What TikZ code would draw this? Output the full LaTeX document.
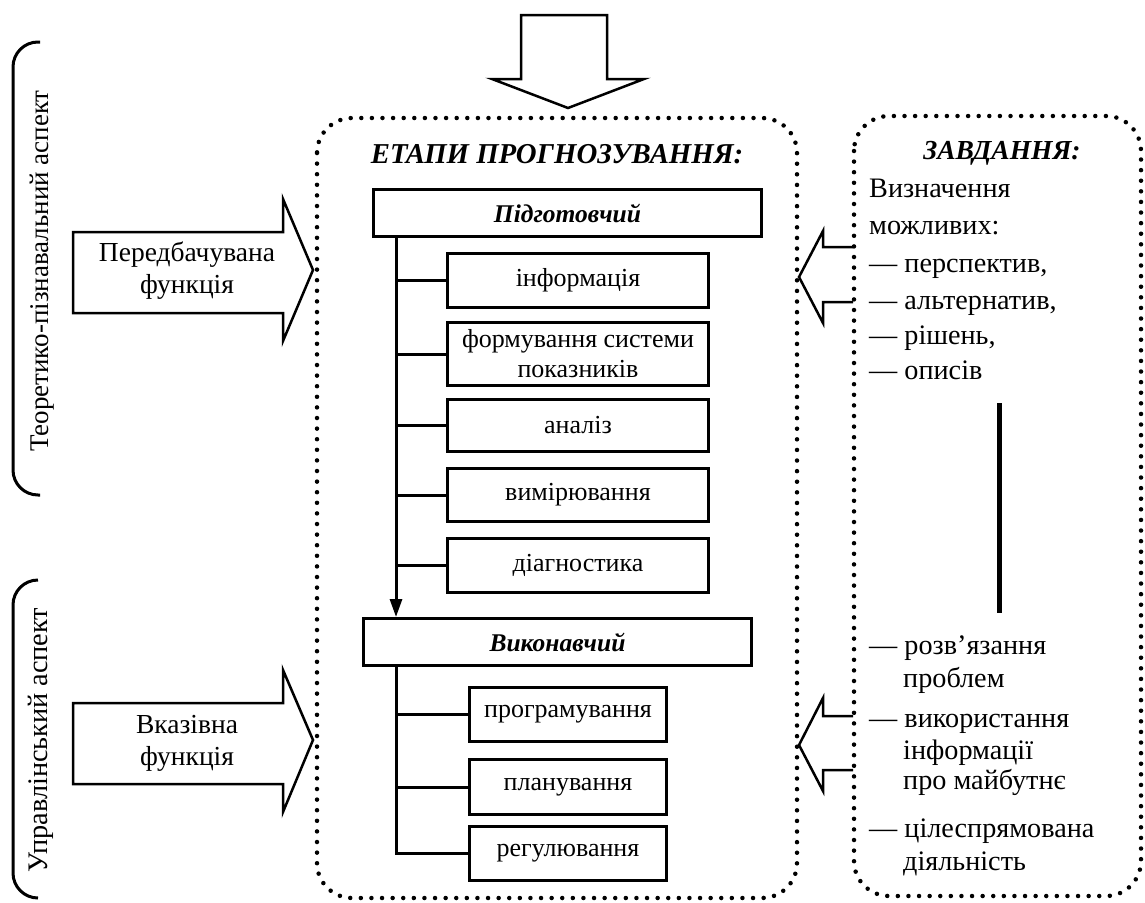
\documentclass[tikz,border=0pt]{standalone}
\usepackage{fontspec}
\setmainfont{Liberation Serif}
\usetikzlibrary{arrows.meta}
\begin{document}
\begin{tikzpicture}[x=1pt,y=-1pt,
  txt/.style={font=\fontsize{27.5}{32}\selectfont, inner sep=0pt},
  ttl/.style={font=\fontsize{28.8}{34}\selectfont\bfseries\itshape, inner sep=0pt},
  stage/.style={draw, line width=3pt, minimum width=388pt, minimum height=47pt, inner sep=0pt,
    font=\fontsize{25.5}{30}\selectfont\bfseries\itshape},
  subbox/.style={draw, line width=3pt, minimum height=54pt, inner sep=0pt, align=center,
    font=\fontsize{26}{30}\selectfont},
  dotbox/.style={line width=4.5pt, dash pattern=on 0pt off 10.6pt, line cap=round, rounded corners=35pt},
  blockarrow/.style={line width=2.5pt, line join=miter},
  brace/.style={line width=3pt, rounded corners=25pt},
  conn/.style={line width=3pt},
  rtxt/.style={font=\fontsize{28.2}{32}\selectfont, inner sep=0pt, anchor=base west}
]
\useasboundingbox (0,0) rectangle (1145,902);

% brackets and aspect labels
\draw[brace] (40,42) -- (13,42) -- (13,495) -- (40,495);
\draw[brace] (38,580) -- (13,580) -- (13,898) -- (38,898);
\node[txt, rotate=90, font=\fontsize{27}{32}\selectfont] (asp1) at (42,271) {Теоретико-пізнавальний аспект};
\node[txt, rotate=90, font=\fontsize{28.3}{32}\selectfont] (asp2) at (41,740) {Управлінський аспект};

% left block arrows
\draw[blockarrow] (73,232) -- (283,232) -- (283,199) -- (313,270) -- (283,341) -- (283,313) -- (73,313) -- cycle;
\node[txt, align=center] (f1) at (187,271) {Передбачувана\\функція};
\draw[blockarrow] (73,703) -- (283,703) -- (283,670) -- (313,740) -- (283,812) -- (283,784) -- (73,784) -- cycle;
\node[txt, align=center] (f2) at (187,743) {Вказівна\\функція};

% top block arrow
\draw[blockarrow] (521,15) -- (607,15) -- (607,79) -- (644,79) -- (568,108) -- (492,79) -- (521,79) -- cycle;

% dotted boxes
\draw[dotbox] (317,118) rectangle (797,898);
\draw[dotbox] (854,116) rectangle (1141,896);

% titles
\node[ttl] (t-etapy) at (557,154) {ЕТАПИ ПРОГНОЗУВАННЯ:};
\node[ttl, font=\fontsize{27.5}{34}\selectfont\bfseries\itshape] (t-zavd) at (1002,153) {ЗАВДАННЯ:};

% stages
\node[stage] (pid) at (567.5,213) {Підготовчий};
\node[subbox, minimum width=261pt] (inf) at (578,280.5) {інформація};
\node[subbox, minimum width=261pt, minimum height=63pt] (form) at (578,354) {формування системи\\показників};
\node[subbox, minimum width=261pt, minimum height=52pt] (anal) at (578,425.5) {аналіз};
\node[subbox, minimum width=261pt, minimum height=53pt] (vym) at (578,495) {вимірювання};
\node[subbox, minimum width=261pt] (diag) at (578,565.5) {діагностика};

\node[stage] (vyk) at (557.5,642) {Виконавчий};
\node[subbox, minimum width=197pt] (prog) at (568,714.5) {програмування};
\node[subbox, minimum width=197pt, minimum height=55pt] (plan) at (568,787) {планування};
\node[subbox, minimum width=197pt] (reg) at (568,853.5) {регулювання};

% tree connectors
\coordinate (tr1) at (396,238);
\coordinate (tr2) at (396,667);
\draw[conn, -{Triangle[length=18pt,width=12pt]}] (tr1) -- (tr1 |- vyk.north);
\foreach \b in {inf,form,anal,vym,diag}{
  \draw[conn] (tr1 |- \b.west) -- (\b.west);
}
\draw[conn] (tr2) -- (tr2 |- reg.west) -- (reg.west);
\draw[conn] (tr2 |- prog.west) -- (prog.west);
\draw[conn] (tr2 |- plan.west) -- (plan.west);

% right block arrows (open at the dotted border)
\draw[blockarrow] (853,247) -- (823,247) -- (823,231) -- (799,277) -- (823,323) -- (823,302) -- (853,302);
\draw[blockarrow] (853,716) -- (823,716) -- (823,698) -- (799,745) -- (823,791) -- (823,770) -- (853,770);

% right texts
\node[rtxt] (r1) at (869,197) {Визначення};
\node[rtxt] (r2) at (869,234) {можливих:};
\node[rtxt] (r3) at (869,272) {— перспектив,};
\node[rtxt] (r4) at (869,309) {— альтернатив,};
\node[rtxt] (r5) at (869,344) {— рішень,};
\node[rtxt] (r6) at (869,379) {— описів};

\coordinate (bar1) at (999,403);
\coordinate (bar2) at (999,613);
\draw[line width=5pt] (bar1) -- (bar2);

\node[rtxt] (r7) at (869,654) {— розв’язання};
\node[rtxt] (r8) at (903,687) {проблем};
\node[rtxt] (r9) at (869,727) {— використання};
\node[rtxt] (r10) at (903,759) {інформації};
\node[rtxt] (r11) at (903,789) {про майбутнє};
\node[rtxt] (r12) at (869,837) {— цілеспрямована};
\node[rtxt] (r13) at (903,870) {діяльність};
\end{tikzpicture}
\end{document}
